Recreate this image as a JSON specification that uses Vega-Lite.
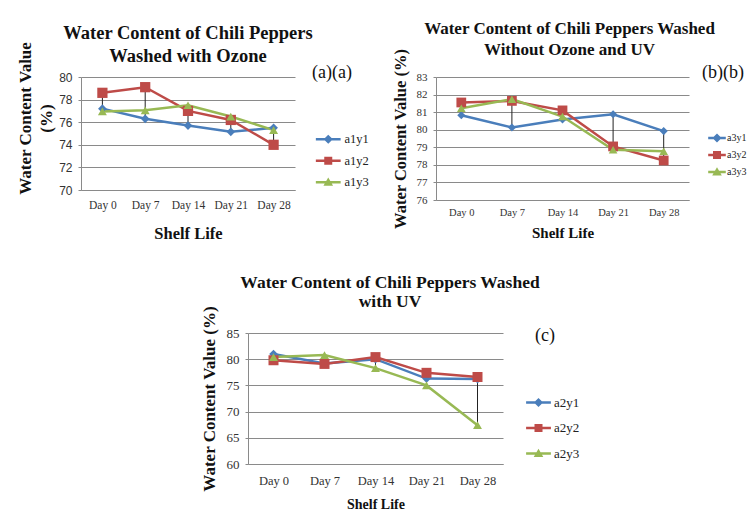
{
  "$schema": "https://vega.github.io/schema/vega-lite/v6.json",
  "padding": {"left": 16, "top": 19, "right": 0, "bottom": 2},
  "background": "white",
  "config": {
    "font": "Liberation Serif",
    "view": {"stroke": null},
    "axis": {
      "labelFont": "Liberation Serif", "labelColor": "#333333",
      "titleFont": "Liberation Serif", "titleFontWeight": "bold", "titleColor": "#111111",
      "gridColor": "#8a8a8a", "gridWidth": 1, "domainColor": "#8a8a8a", "tickColor": "#8a8a8a"
    },
    "title": {"font": "Liberation Serif", "fontWeight": "bold", "color": "#111111"},
    "legend": {
      "labelFont": "Liberation Serif", "labelColor": "#222222",
      "titleFont": "Liberation Serif", "titleFontWeight": "normal", "titleColor": "#111111",
      "symbolStrokeWidth": 0
    }
  },
  "datasets": {
    "a": [
      {"day": "Day 0", "series": "a1y1", "value": 77.2},
      {"day": "Day 7", "series": "a1y1", "value": 76.3},
      {"day": "Day 14", "series": "a1y1", "value": 75.7},
      {"day": "Day 21", "series": "a1y1", "value": 75.15},
      {"day": "Day 28", "series": "a1y1", "value": 75.5},
      {"day": "Day 0", "series": "a1y2", "value": 78.6},
      {"day": "Day 7", "series": "a1y2", "value": 79.1},
      {"day": "Day 14", "series": "a1y2", "value": 77.0},
      {"day": "Day 21", "series": "a1y2", "value": 76.2},
      {"day": "Day 28", "series": "a1y2", "value": 74.0},
      {"day": "Day 0", "series": "a1y3", "value": 76.95},
      {"day": "Day 7", "series": "a1y3", "value": 77.05},
      {"day": "Day 14", "series": "a1y3", "value": 77.5},
      {"day": "Day 21", "series": "a1y3", "value": 76.5},
      {"day": "Day 28", "series": "a1y3", "value": 75.3}
    ],
    "b": [
      {"day": "Day 0", "series": "a3y1", "value": 80.82},
      {"day": "Day 7", "series": "a3y1", "value": 80.13},
      {"day": "Day 14", "series": "a3y1", "value": 80.58},
      {"day": "Day 21", "series": "a3y1", "value": 80.88},
      {"day": "Day 28", "series": "a3y1", "value": 79.92},
      {"day": "Day 0", "series": "a3y2", "value": 81.55},
      {"day": "Day 7", "series": "a3y2", "value": 81.64},
      {"day": "Day 14", "series": "a3y2", "value": 81.1},
      {"day": "Day 21", "series": "a3y2", "value": 79.05},
      {"day": "Day 28", "series": "a3y2", "value": 78.25},
      {"day": "Day 0", "series": "a3y3", "value": 81.22},
      {"day": "Day 7", "series": "a3y3", "value": 81.74},
      {"day": "Day 14", "series": "a3y3", "value": 80.75},
      {"day": "Day 21", "series": "a3y3", "value": 78.86},
      {"day": "Day 28", "series": "a3y3", "value": 78.78}
    ],
    "c": [
      {"day": "Day 0", "series": "a2y1", "value": 81.0},
      {"day": "Day 7", "series": "a2y1", "value": 79.2},
      {"day": "Day 14", "series": "a2y1", "value": 80.0},
      {"day": "Day 21", "series": "a2y1", "value": 76.3},
      {"day": "Day 28", "series": "a2y1", "value": 76.2},
      {"day": "Day 0", "series": "a2y2", "value": 79.8},
      {"day": "Day 7", "series": "a2y2", "value": 79.1},
      {"day": "Day 14", "series": "a2y2", "value": 80.4},
      {"day": "Day 21", "series": "a2y2", "value": 77.4},
      {"day": "Day 28", "series": "a2y2", "value": 76.6},
      {"day": "Day 0", "series": "a2y3", "value": 80.4},
      {"day": "Day 7", "series": "a2y3", "value": 80.8},
      {"day": "Day 14", "series": "a2y3", "value": 78.3},
      {"day": "Day 21", "series": "a2y3", "value": 75.0},
      {"day": "Day 28", "series": "a2y3", "value": 67.4}
    ]
  },
  "vconcat": [
    {
      "hconcat": [
        {
          "width": 214, "height": 113,
          "data": {"name": "a"},
          "title": {"text": ["Water Content of Chili Peppers", "Washed with Ozone"], "fontSize": 18.5, "lineHeight": 23, "offset": -24, "frame": "group"},
          "encoding": {
            "x": {"field": "day", "type": "ordinal", "sort": ["Day 0", "Day 7", "Day 14", "Day 21", "Day 28"],
                  "scale": {"type": "point", "padding": 0.5},
                  "axis": {"title": "Shelf Life", "labelAngle": 0, "ticks": false, "labelPadding": 9, "titlePadding": 15, "labelFontSize": 11.5, "titleFontSize": 16.5}},
            "y": {"field": "value", "type": "quantitative", "scale": {"domain": [70, 80]},
                  "axis": {"title": ["Water Content Value", "(%)"], "titleY": 41, "values": [70, 72, 74, 76, 78, 80], "tickSize": 3, "labelPadding": 6, "titlePadding": 3, "labelFont": "Liberation Sans", "labelFontSize": 12, "titleFontSize": 17, "titleLineHeight": 21}},
            "color": {"field": "series", "type": "nominal", "scale": {"domain": ["a1y1", "a1y2", "a1y3"], "range": ["#4a7ebb", "#be4b48", "#98b954"]},
              "legend": {"title": "(a)(a)", "titleFontSize": 18, "orient": "none", "legendX": 231, "legendY": -13, "titlePadding": 51, "rowPadding": 8.5, "labelFont": "Liberation Serif", "labelFontSize": 12.5, "symbolSize": 64, "symbolOffset": 10, "labelOffset": 10}}
          },
          "layer": [
            {
              "transform": [{"aggregate": [{"op": "min", "field": "value", "as": "value"}, {"op": "max", "field": "value", "as": "hi"}], "groupby": ["day"]}],
              "mark": {"type": "rule", "strokeWidth": 1},
              "encoding": {"y2": {"field": "hi"}, "color": {"value": "#222222"}}
            },
            {"mark": {"type": "line", "strokeWidth": 2.5}},
            {"transform": [{"filter": "datum.series === 'a1y1'"}], "mark": {"type": "point", "shape": "diamond", "filled": true, "opacity": 1, "size": 75}},
            {"transform": [{"filter": "datum.series === 'a1y2'"}], "mark": {"type": "point", "shape": "square", "filled": true, "opacity": 1, "size": 105}},
            {"transform": [{"filter": "datum.series === 'a1y3'"}], "mark": {"type": "point", "shape": "triangle-up", "filled": true, "opacity": 1, "size": 80}},
            {
              "transform": [{"filter": "false"}],
              "mark": {"type": "point", "filled": true, "opacity": 1},
              "encoding": {
                "shape": {"field": "series", "type": "nominal",
                  "scale": {"domain": ["a1y1", "a1y2", "a1y3"], "range": ["M-3.1,-0.3H3.1V0.3H-3.1Z M0,-1.15L1.15,0L0,1.15L-1.15,0Z", "M-3.1,-0.3H3.1V0.3H-3.1Z M-1,-1H1V1H-1Z", "M-3.1,-0.3H3.1V0.3H-3.1Z M0,-1.2L1.2,0.9H-1.2Z"]},
                  "legend": {"title": "(a)(a)", "titleFontSize": 18, "orient": "none", "legendX": 231, "legendY": -13, "titlePadding": 51, "rowPadding": 8.5, "labelFont": "Liberation Serif", "labelFontSize": 12.5, "symbolSize": 64, "symbolOffset": 10, "labelOffset": 10}}
              }
            }
          ]
        },
        {
          "width": 253, "height": 123,
          "data": {"name": "b"},
          "title": {"text": ["Water Content of Chili Peppers Washed", "Without Ozone and UV"], "fontSize": 17, "lineHeight": 21, "offset": -10.5, "frame": "bounds"},
          "encoding": {
            "x": {"field": "day", "type": "ordinal", "sort": ["Day 0", "Day 7", "Day 14", "Day 21", "Day 28"],
                  "scale": {"type": "point", "padding": 0.5},
                  "axis": {"title": "Shelf Life", "labelAngle": 0, "ticks": false, "labelPadding": 7, "titlePadding": 8, "labelFontSize": 10.5, "titleFontSize": 15}},
            "y": {"field": "value", "type": "quantitative", "scale": {"domain": [76, 83]},
                  "axis": {"title": "Water Content Value (%)", "values": [76, 77, 78, 79, 80, 81, 82, 83], "tickSize": 3, "labelPadding": 6, "titlePadding": 8, "labelFontSize": 11, "titleFontSize": 16.5}},
            "color": {"field": "series", "type": "nominal", "scale": {"domain": ["a3y1", "a3y2", "a3y3"], "range": ["#4a7ebb", "#be4b48", "#98b954"]},
              "legend": {"title": "(b)(b)", "titleFontSize": 18, "orient": "none", "legendX": 266, "legendY": -13, "titlePadding": 51, "rowPadding": 7, "labelFont": "Liberation Serif", "labelFontSize": 10, "symbolSize": 64, "symbolOffset": 10, "labelOffset": 5}}
          },
          "layer": [
            {
              "transform": [{"aggregate": [{"op": "min", "field": "value", "as": "value"}, {"op": "max", "field": "value", "as": "hi"}], "groupby": ["day"]}],
              "mark": {"type": "rule", "strokeWidth": 1},
              "encoding": {"y2": {"field": "hi"}, "color": {"value": "#222222"}}
            },
            {"mark": {"type": "line", "strokeWidth": 2.5}},
            {"transform": [{"filter": "datum.series === 'a3y1'"}], "mark": {"type": "point", "shape": "diamond", "filled": true, "opacity": 1, "size": 65}},
            {"transform": [{"filter": "datum.series === 'a3y2'"}], "mark": {"type": "point", "shape": "square", "filled": true, "opacity": 1, "size": 95}},
            {"transform": [{"filter": "datum.series === 'a3y3'"}], "mark": {"type": "point", "shape": "triangle-up", "filled": true, "opacity": 1, "size": 75}},
            {
              "transform": [{"filter": "false"}],
              "mark": {"type": "point", "filled": true, "opacity": 1},
              "encoding": {
                "shape": {"field": "series", "type": "nominal",
                  "scale": {"domain": ["a3y1", "a3y2", "a3y3"], "range": ["M-2.2,-0.3H2.2V0.3H-2.2Z M0,-1.15L1.15,0L0,1.15L-1.15,0Z", "M-2.2,-0.3H2.2V0.3H-2.2Z M-1,-1H1V1H-1Z", "M-2.2,-0.3H2.2V0.3H-2.2Z M0,-1.2L1.2,0.9H-1.2Z"]},
                  "legend": {"title": "(b)(b)", "titleFontSize": 18, "orient": "none", "legendX": 266, "legendY": -13, "titlePadding": 51, "rowPadding": 7, "labelFont": "Liberation Serif", "labelFontSize": 10, "symbolSize": 64, "symbolOffset": 10, "labelOffset": 5}}
              }
            }
          ]
        }
      ],
      "spacing": 22,
      "resolve": {"scale": {"color": "independent", "shape": "independent", "x": "independent", "y": "independent"}, "legend": {"color": "independent", "shape": "independent"}}
    },
    {
      "width": 255, "height": 131,
      "data": {"name": "c"},
      "title": {"text": ["Water Content of Chili Peppers Washed", "with UV"], "fontSize": 17.5, "lineHeight": 19, "offset": -4.5, "frame": "bounds"},
      "encoding": {
        "x": {"field": "day", "type": "ordinal", "sort": ["Day 0", "Day 7", "Day 14", "Day 21", "Day 28"],
              "scale": {"type": "point", "padding": 0.5},
              "axis": {"title": "Shelf Life", "labelAngle": 0, "ticks": false, "labelPadding": 10, "titlePadding": 11, "labelFontSize": 12.5, "titleFontSize": 14}},
        "y": {"field": "value", "type": "quantitative", "scale": {"domain": [60, 85]},
              "axis": {"title": "Water Content Value (%)", "values": [60, 65, 70, 75, 80, 85], "tickSize": 3, "labelPadding": 6, "titlePadding": 8, "labelFontSize": 13, "titleFontSize": 17}},
        "color": {"field": "series", "type": "nominal", "scale": {"domain": ["a2y1", "a2y2", "a2y3"], "range": ["#4a7ebb", "#be4b48", "#98b954"]},
          "legend": {"title": "(c)", "titleFontSize": 18, "orient": "none", "legendX": 287, "legendY": -6, "titlePadding": 51, "rowPadding": 11.5, "labelFont": "Liberation Serif", "labelFontSize": 13, "symbolSize": 64, "symbolOffset": -3, "labelOffset": 9}}
      },
      "layer": [
        {
          "transform": [{"aggregate": [{"op": "min", "field": "value", "as": "value"}, {"op": "max", "field": "value", "as": "hi"}], "groupby": ["day"]}],
          "mark": {"type": "rule", "strokeWidth": 1},
          "encoding": {"y2": {"field": "hi"}, "color": {"value": "#222222"}}
        },
        {"mark": {"type": "line", "strokeWidth": 2.5}},
        {"transform": [{"filter": "datum.series === 'a2y1'"}], "mark": {"type": "point", "shape": "diamond", "filled": true, "opacity": 1, "size": 75}},
        {"transform": [{"filter": "datum.series === 'a2y2'"}], "mark": {"type": "point", "shape": "square", "filled": true, "opacity": 1, "size": 100}},
        {"transform": [{"filter": "datum.series === 'a2y3'"}], "mark": {"type": "point", "shape": "triangle-up", "filled": true, "opacity": 1, "size": 80}},
        {
          "transform": [{"filter": "false"}],
          "mark": {"type": "point", "filled": true, "opacity": 1},
          "encoding": {
            "shape": {"field": "series", "type": "nominal",
              "scale": {"domain": ["a2y1", "a2y2", "a2y3"], "range": ["M-3.1,-0.3H3.1V0.3H-3.1Z M0,-1.15L1.15,0L0,1.15L-1.15,0Z", "M-3.1,-0.3H3.1V0.3H-3.1Z M-1,-1H1V1H-1Z", "M-3.1,-0.3H3.1V0.3H-3.1Z M0,-1.2L1.2,0.9H-1.2Z"]},
              "legend": {"title": "(c)", "titleFontSize": 18, "orient": "none", "legendX": 287, "legendY": -6, "titlePadding": 51, "rowPadding": 11.5, "labelFont": "Liberation Serif", "labelFontSize": 13, "symbolSize": 64, "symbolOffset": -3, "labelOffset": 9}}
          }
        }
      ]
    }
  ],
  "spacing": 31,
  "center": true,
  "resolve": {"scale": {"color": "independent", "shape": "independent", "x": "independent", "y": "independent"}, "legend": {"color": "independent", "shape": "independent"}}
}
